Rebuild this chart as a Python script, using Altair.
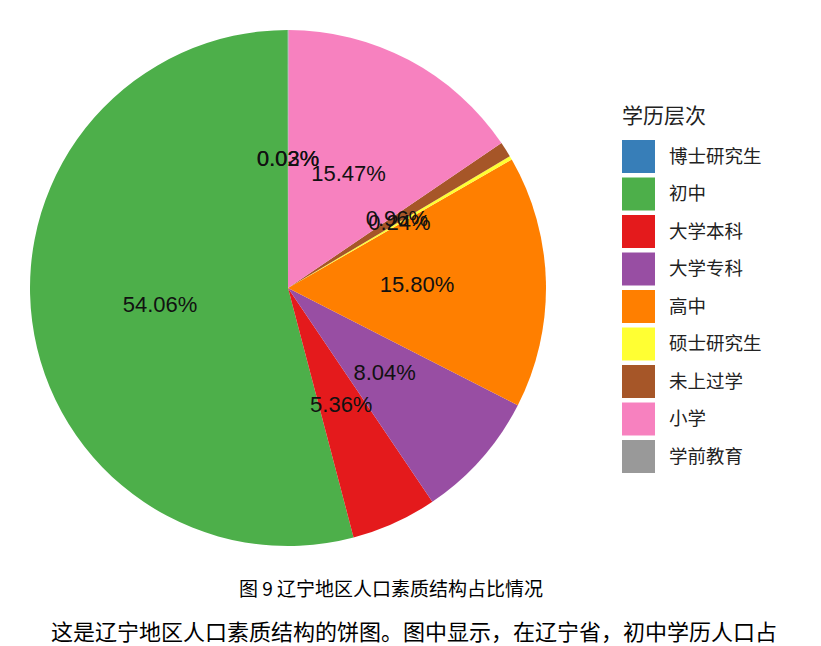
import altair as alt
import pandas as pd

categories = ["博士研究生", "初中", "大学本科", "大学专科", "高中", "硕士研究生", "未上过学", "小学", "学前教育"]
values = [0.02, 54.06, 5.36, 8.04, 15.80, 0.24, 0.96, 15.47, 0.03]
labels = ["0.02%", "54.06%", "5.36%", "8.04%", "15.80%", "0.24%", "0.96%", "15.47%", "0.03%"]
# clockwise drawing order from 12 o'clock
draw_order = [8, 7, 6, 5, 4, 3, 2, 1, 0]
colors = ["#377EB8", "#4DAF4A", "#E41A1C", "#984EA3", "#FF7F00", "#FFFF33", "#A65628", "#F781BF", "#999999"]

caption = "图 9   辽宁地区人口素质结构占比情况"
body = "这是辽宁地区人口素质结构的饼图。图中显示，在辽宁省，初中学历人口占"

df = pd.DataFrame({"cat": categories, "value": values, "label": labels, "ord": draw_order})

CX, CY, R = 280, 280, 258

base = alt.Chart(df).encode(
    theta=alt.Theta("value:Q", stack=True),
    order=alt.Order("ord:Q", sort="ascending"),
)

pie = base.mark_arc(outerRadius=R, strokeWidth=0).encode(
    x=alt.value(CX),
    y=alt.value(CY),
    color=alt.Color(
        "cat:N",
        scale=alt.Scale(domain=categories, range=colors),
        legend=alt.Legend(
            title="学历层次",
            orient="none",
            legendX=614,
            legendY=98,
            symbolType="square",
            symbolSize=1089,
            symbolStrokeWidth=0,
            symbolOpacity=1,
            rowPadding=4.5,
            labelFontSize=18.5,
            labelFont="Noto Sans CJK SC",
            labelColor="#222222",
            labelOffset=14,
            titleFontSize=21,
            titleFont="Noto Sans CJK SC",
            titleFontWeight="normal",
            titleColor="#222222",
            titlePadding=13,
        ),
    ),
)

text = base.mark_text(radius=R / 2, fontSize=22, font="Liberation Sans", color="#111111").encode(
    x=alt.value(CX),
    y=alt.value(CY),
    text="label:N",
)

cap = alt.Chart(pd.DataFrame({"t": [caption]})).mark_text(
    fontSize=19, font="Noto Sans CJK SC", color="#000000", align="center", baseline="middle"
).encode(text="t:N", x=alt.value(383), y=alt.value(582))

bod = alt.Chart(pd.DataFrame({"t": [body]})).mark_text(
    fontSize=22, font="Noto Sans CJK SC", color="#000000", align="center", baseline="middle"
).encode(text="t:N", x=alt.value(406), y=alt.value(625))

chart = alt.layer(pie, text, cap, bod).properties(
    width=805, height=630, padding=0
).configure_view(stroke=None)

chart.save("out.html", embed_options={"renderer": "svg", "actions": False})
